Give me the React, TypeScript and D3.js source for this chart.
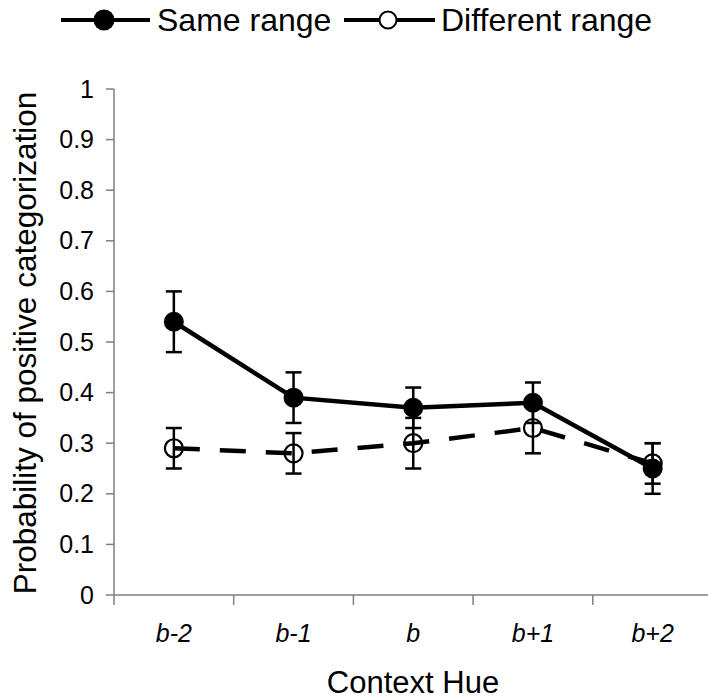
import React from "react";
import * as d3 from "d3";

const categories = ["b-2", "b-1", "b", "b+1", "b+2"];
const sameValues = [0.54, 0.39, 0.37, 0.38, 0.25];
const sameErrors = [0.06, 0.05, 0.04, 0.04, 0.05];
const diffValues = [0.29, 0.28, 0.3, 0.33, 0.26];
const diffErrors = [0.04, 0.04, 0.05, 0.05, 0.04];
const yTicks = [0, 0.1, 0.2, 0.3, 0.4, 0.5, 0.6, 0.7, 0.8, 0.9, 1];
const seriesNames = ["Same range", "Different range"];

const W = 708;
const H = 700;
const FONT = "'Liberation Sans', Arial, Helvetica, sans-serif";

export default function App() {
  const x0 = 114;
  const band = 119.7;
  const x = d3
    .scaleBand<string>()
    .domain(categories)
    .range([x0, x0 + band * categories.length]);
  const y = d3.scaleLinear().domain([0, 1]).range([595, 89]);
  const cx = (c: string) => (x(c) as number) + x.bandwidth() / 2;
  const line = d3
    .line<number>()
    .x((_, i) => cx(categories[i]))
    .y((d) => y(d));

  const axisColor = "#7f7f7f";

  const errBars = (vals: number[], errs: number[], key: string) =>
    vals.map((v, i) => {
      const xc = cx(categories[i]);
      const top = y(v + errs[i]);
      const bot = y(v - errs[i]);
      return (
        <g key={key + i} stroke="#000" strokeWidth={2.5}>
          <line x1={xc} x2={xc} y1={top} y2={bot} />
          <line x1={xc - 8} x2={xc + 8} y1={top} y2={top} />
          <line x1={xc - 8} x2={xc + 8} y1={bot} y2={bot} />
        </g>
      );
    });

  const legendY = 20;

  return (
    <div style={{ position: "absolute", left: 0, top: 0 }}>
      <svg width={W} height={H} style={{ display: "block", background: "#fff" }} fontFamily={FONT}>
        {/* Legend */}
        <g>
          <line x1={61} x2={150} y1={legendY} y2={legendY} stroke="#000" strokeWidth={4} />
          <circle cx={104} cy={legendY} r={10.5} fill="#000" />
          <text x={157} y={legendY + 11} fontSize={32} fill="#000">
            {seriesNames[0]}
          </text>
          <line x1={344} x2={435} y1={legendY} y2={legendY} stroke="#000" strokeWidth={4} />
          <circle cx={388} cy={legendY} r={8.5} fill="#fff" stroke="#000" strokeWidth={2} />
          <text x={441} y={legendY + 11} fontSize={32} fill="#000">
            {seriesNames[1]}
          </text>
        </g>

        {/* Y axis */}
        <line x1={x0} x2={x0} y1={y(1)} y2={y(0)} stroke={axisColor} strokeWidth={1.5} />
        {yTicks.map((t) => (
          <g key={"yt" + t}>
            <line x1={x0 - 8} x2={x0} y1={y(t)} y2={y(t)} stroke={axisColor} strokeWidth={1.5} />
            <text x={x0 - 20} y={y(t) + 8.5} textAnchor="end" fontSize={25} fill="#000">
              {String(t)}
            </text>
          </g>
        ))}

        {/* X axis */}
        <line x1={x0} x2={x0 + band * categories.length} y1={y(0)} y2={y(0)} stroke={axisColor} strokeWidth={1.5} />
        {d3.range(categories.length + 1).map((i) => (
          <line
            key={"xt" + i}
            x1={x0 + band * i}
            x2={x0 + band * i}
            y1={y(0)}
            y2={y(0) + 10}
            stroke={axisColor}
            strokeWidth={1.5}
          />
        ))}
        {categories.map((c) => (
          <text key={"xl" + c} x={cx(c)} y={642} textAnchor="middle" fontSize={25} fontStyle="italic" fill="#000">
            {c}
          </text>
        ))}

        {/* Axis titles */}
        <text x={413} y={693} textAnchor="middle" fontSize={31} fill="#000">
          Context Hue
        </text>
        <text
          transform={`translate(36, ${(y(0) + y(1)) / 2 + 1}) rotate(-90)`}
          textAnchor="middle"
          fontSize={31.5}
          fill="#000"
        >
          Probability of positive categorization
        </text>

        {/* Different range series */}
        <path d={line(diffValues) || ""} fill="none" stroke="#000" strokeWidth={4.5} strokeDasharray="26,20" />
        {errBars(diffValues, diffErrors, "de")}
        {diffValues.map((v, i) => (
          <circle key={"dc" + i} cx={cx(categories[i])} cy={y(v)} r={9} fill="none" stroke="#000" strokeWidth={2.2} />
        ))}

        {/* Same range series */}
        <path d={line(sameValues) || ""} fill="none" stroke="#000" strokeWidth={4.5} />
        {errBars(sameValues, sameErrors, "se")}
        {sameValues.map((v, i) => (
          <circle key={"sc" + i} cx={cx(categories[i])} cy={y(v)} r={10} fill="#000" />
        ))}
      </svg>
    </div>
  );
}
